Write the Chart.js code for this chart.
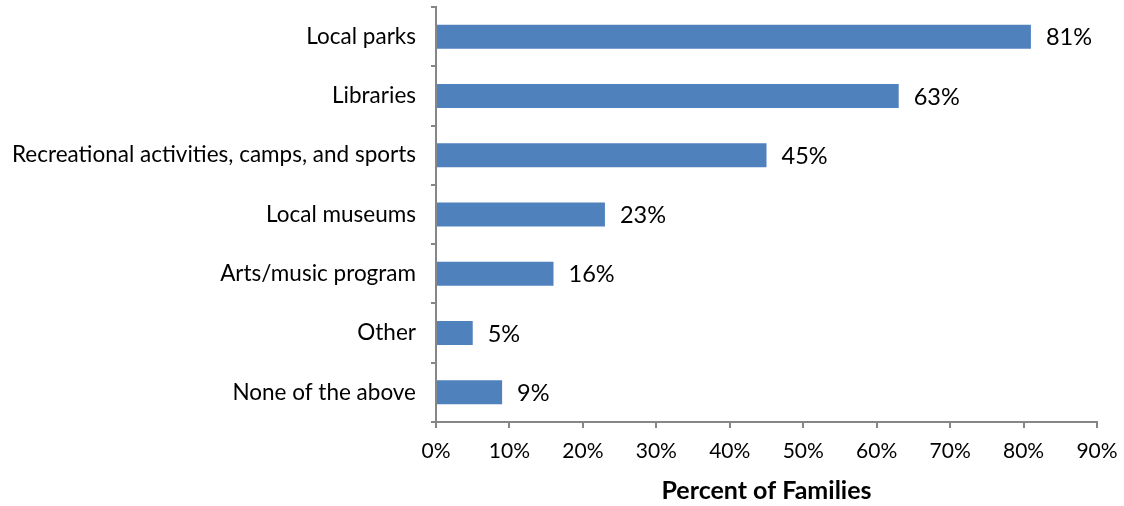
<!DOCTYPE html>
<html>
<head>
<meta charset="utf-8">
<script src="https://cdn.jsdelivr.net/npm/chart.js@4/dist/chart.umd.min.js"></script>
<style>
  html, body { margin: 0; padding: 0; background: #fff; }
  #wrap { width: 1124px; height: 506px; }
</style>
</head>
<body>
<div id="wrap"><canvas id="graphique"></canvas></div>
<script>
const categories = [
    "Local parks",
    "Libraries",
    "Recreational activities, camps, and sports",
    "Local museums",
    "Arts/music program",
    "Other",
    "None of the above"
];
const percentFamilies = [81, 63, 45, 23, 16, 5, 9];
const xTicks = [0, 10, 20, 30, 40, 50, 60, 70, 80, 90];

const police = "Lato, 'Open Sans', sans-serif";
const gris = "#868686";

// labels "81%" etc a droite de chaque barre
const etiquettes = {
    id: "etiquettes",
    afterDatasetsDraw(chart) {
        const ctx = chart.ctx;
        const meta = chart.getDatasetMeta(0);
        ctx.save();
        ctx.font = "23.5px " + police;
        ctx.fillStyle = "#000";
        ctx.textBaseline = "middle";
        ctx.textAlign = "left";
        meta.data.forEach((bar, i) => {
            ctx.fillText(percentFamilies[i] + "%", bar.x + 15, bar.y + 1);
        });
        ctx.restore();
    }
};

const graph = document.getElementById('graphique');

new Chart(graph, {
    type: 'bar',
    data: {
        labels: categories,
        datasets: [{
            data: percentFamilies,
            backgroundColor: "#4F81BD",
            borderWidth: 0,
            barPercentage: 0.405,
            categoryPercentage: 1
        }]
    },
    options: {
        indexAxis: 'y',
        responsive: true,
        maintainAspectRatio: false,
        animation: false,
        layout: { padding: { left: 0, right: 27, top: 7, bottom: 0 } },
        plugins: {
            legend: { display: false },
            tooltip: { enabled: false }
        },
        scales: {
            y: {
                grid: {
                    display: true,
                    offset: true,
                    drawOnChartArea: false,
                    tickLength: 5,
                    color: gris,
                    lineWidth: 2
                },
                border: { color: gris, width: 2 },
                ticks: {
                    color: "#000",
                    font: { family: police, size: 22.5 },
                    padding: 15,
                    autoSkip: false
                },
                afterFit: scale => {
                    scale.width = 436;
                    scale.paddingTop = 0;
                    scale.paddingBottom = 0;
                }
            },
            x: {
                min: 0,
                max: 90,
                afterBuildTicks: scale => {
                    scale.ticks = xTicks.map(v => ({ value: v }));
                },
                grid: {
                    display: true,
                    drawOnChartArea: false,
                    tickLength: 6,
                    color: gris,
                    lineWidth: 2
                },
                border: { color: gris, width: 2 },
                ticks: {
                    color: "#000",
                    font: { family: police, size: 21 },
                    padding: 11,
                    callback: v => v + "%"
                },
                title: {
                    display: true,
                    text: "Percent of Families",
                    color: "#000",
                    font: { family: police, size: 25, weight: "bold" },
                    padding: { top: 8, bottom: 0 }
                },
                afterFit: scale => {
                    scale.height = 84;
                    scale.paddingLeft = 0;
                    scale.paddingRight = 0;
                }
            }
        }
    },
    plugins: [etiquettes]
});
</script>
</body>
</html>
